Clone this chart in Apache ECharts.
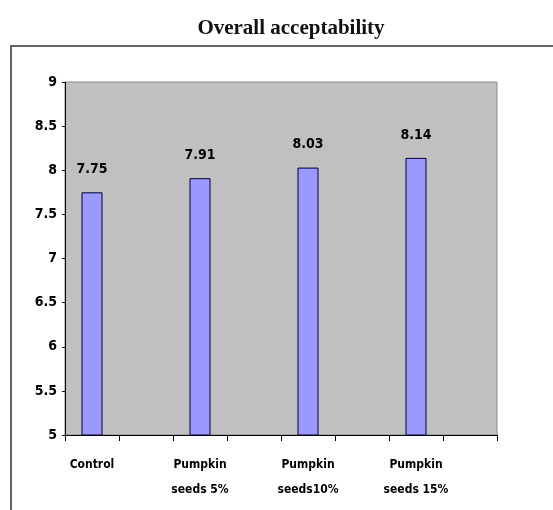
<!DOCTYPE html>
<html>
<head>
<meta charset="utf-8">
<script src="https://cdn.jsdelivr.net/npm/echarts@6/dist/echarts.min.js"></script>
<style>
  html, body { margin: 0; padding: 0; background: #fff; }
  #chart { width: 553px; height: 510px; }
</style>
</head>
<body>
<div id="chart"></div>
<script>
// Excel-style sheet: blank categories sit between the real ones
const categories = ['Control', '', 'Pumpkin\nseeds 5%', '', 'Pumpkin\nseeds10%', '', 'Pumpkin\nseeds 15%', '']
const acceptability = [7.75, null, 7.91, null, 8.03, null, 8.14, null]
const yTicks = { min: 5, max: 9, step: 0.5 }

const narrow = "'Liberation Sans Narrow', 'DejaVu Sans Condensed', 'Arial Narrow', sans-serif"

const chart = echarts.init(document.getElementById('chart'))

chart.setOption({
  animation: false,
  title: {
    text: 'Overall acceptability',
    left: 286,
    top: 13,
    textAlign: 'center',
    textStyle: {
      fontFamily: "'Liberation Serif', 'DejaVu Serif', serif",
      fontWeight: 'bold',
      fontSize: 21,
      color: '#111',
    },
  },
  graphic: [
    {
      type: 'rect',
      shape: { x: 11, y: 46, width: 620, height: 600 },
      style: { fill: 'none', stroke: '#333', lineWidth: 1.5 },
      silent: true,
    },
  ],
  grid: {
    left: 65,
    right: 56,
    top: 82,
    bottom: 75,
    show: true,
    backgroundColor: '#C0C0C0',
    borderColor: '#888',
    borderWidth: 1,
  },
  xAxis: {
    type: 'category',
    data: categories,
    axisLine: { lineStyle: { color: '#000', width: 1 } },
    axisTick: { show: true, length: 6, lineStyle: { color: '#000' } },
    axisLabel: {
      interval: 0,
      margin: 17,
      fontFamily: narrow,
      fontWeight: 'bold',
      fontSize: 12,
      lineHeight: 25,
      color: '#000',
    },
  },
  yAxis: {
    type: 'value',
    min: yTicks.min,
    max: yTicks.max,
    interval: yTicks.step,
    splitLine: { show: false },
    axisLine: { show: true, lineStyle: { color: '#000', width: 1 } },
    axisTick: { show: true, length: 3, lineStyle: { color: '#000' } },
    axisLabel: {
      margin: 8,
      fontFamily: narrow,
      fontWeight: 'bold',
      fontSize: 14,
      color: '#000',
    },
  },
  series: [
    {
      type: 'bar',
      data: acceptability,
      barWidth: 21,
      itemStyle: {
        color: '#9999FF',
        borderColor: '#000033',
        borderWidth: 1,
      },
      label: {
        show: true,
        position: 'top',
        distance: 16,
        formatter: (p) => p.value.toFixed(2),
        fontFamily: narrow,
        fontWeight: 'bold',
        fontSize: 14,
        color: '#000',
      },
    },
  ],
})
</script>
</body>
</html>
